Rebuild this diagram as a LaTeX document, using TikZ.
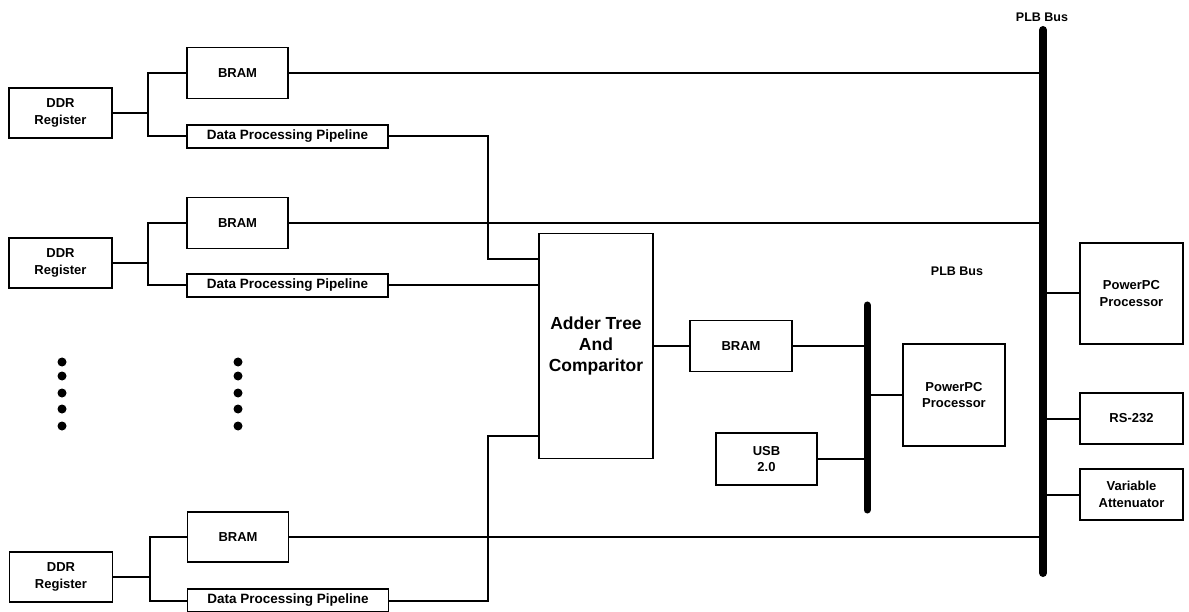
\documentclass[tikz,border=0pt]{standalone}
\usepackage{fontspec}
\setmainfont{Liberation Sans}
\usepackage{tikz}
\usetikzlibrary{positioning}

\begin{document}
\begin{tikzpicture}[x=1pt, y=-1pt,
    box/.style={draw=black, line width=1.8pt, fill=white, inner sep=0pt, align=center,
        font=\bfseries\fontsize{13}{16.5}\selectfont},
    pipebox/.style={box, font=\bfseries\fontsize{13.5}{16}\selectfont},
    bigbox/.style={box, font=\bfseries\fontsize{17.5}{21}\selectfont},
    wire/.style={draw=black, line width=2pt},
    bus/.style={draw=black, line cap=round},
    buslabel/.style={font=\bfseries\fontsize{12.5}{15}\selectfont}
    ]
        \useasboundingbox (0,0) rectangle (1189,612);

        %Nodes
        \node[box, minimum width=103pt, minimum height=50pt]
            (ddrA)  at (60.5,113)   {DDR\\Register};
        \node[box, minimum width=101pt, minimum height=51pt]
            (bramA) at (237.5,73)   {BRAM};
        \node[pipebox, minimum width=201pt, minimum height=23pt]
            (dppA)  at (287.5,136.5) {Data Processing Pipeline};

        \node[box, minimum width=103pt, minimum height=50pt]
            (ddrB)  at (60.5,263)   {DDR\\Register};
        \node[box, minimum width=101pt, minimum height=51pt]
            (bramB) at (237.5,223) {BRAM};
        \node[pipebox, minimum width=201pt, minimum height=23pt]
            (dppB)  at (287.5,285.5) {Data Processing Pipeline};

        \node[box, minimum width=103pt, minimum height=50pt]
            (ddrC)  at (61,577)     {DDR\\Register};
        \node[box, minimum width=101pt, minimum height=50pt]
            (bramC) at (238,537)    {BRAM};
        \node[pipebox, minimum width=201pt, minimum height=23pt]
            (dppC)  at (288,600.5)  {Data Processing Pipeline};

        \node[bigbox, minimum width=114pt, minimum height=225pt]
            (adder) at (596,346)    {Adder Tree\\And\\Comparitor};
        \node[box, minimum width=102pt, minimum height=51pt]
            (bramD) at (741,346)    {BRAM};
        \node[box, minimum width=101pt, minimum height=52pt]
            (usb)   at (766.5,459)  {USB\\2.0};
        \node[box, minimum width=102pt, minimum height=102pt]
            (ppcB)  at (954,395)    {PowerPC\\Processor};

        \node[box, minimum width=103pt, minimum height=101pt]
            (ppcA)  at (1131.5,293.5) {PowerPC\\Processor};
        \node[box, minimum width=103pt, minimum height=51pt]
            (rs)    at (1131.5,418.5) {RS-232};
        \node[box, minimum width=103pt, minimum height=51pt]
            (att)   at (1131.5,494.5) {Variable\\Attenuator};

        \node[buslabel] (plbA) at (1042,17)  {PLB Bus};
        \node[buslabel] (plbB) at (957,271)  {PLB Bus};

        %Buses
        \coordinate (busAtop) at (1043,30);
        \coordinate (busAbot) at (1043,573);
        \coordinate (busBtop) at (867,305);
        \coordinate (busBbot) at (867,510);
        \draw[bus, line width=8pt] (busAtop) -- (busAbot);
        \draw[bus, line width=7pt] (busBtop) -- (busBbot);

        %Junctions
        \coordinate (jA) at (148,113);
        \coordinate (jB) at (148,263);
        \coordinate (jC) at (150,577);
        \coordinate (jog) at (488,0);

        %Lines
        \draw[wire] (ddrA.east) -- (jA);
        \draw[wire] (bramA.west) -| (jA) |- (dppA.west);
        \draw[wire] (ddrB.east) -- (jB);
        \draw[wire] (bramB.west) -| (jB) |- (dppB.west);
        \draw[wire] (ddrC.east) -- (jC);
        \draw[wire] (bramC.west) -| (jC) |- (dppC.west);

        \draw[wire] (bramA.east) -- (bramA.east -| busAtop);
        \draw[wire] (bramB.east) -- (bramB.east -| busAtop);
        \draw[wire] (bramC.east) -- (bramC.east -| busAtop);

        \draw[wire] (dppA.east) -- (dppA.east -| jog) |- ([yshift=87pt]adder.west);
        \draw[wire] (dppB.east) -- (dppB.east -| adder.west);
        \draw[wire] (dppC.east) -- (dppC.east -| jog) |- ([yshift=-90pt]adder.west);

        \draw[wire] (adder.east) -- (bramD.west);
        \draw[wire] (bramD.east) -- (bramD.east -| busBtop);
        \draw[wire] (usb.east) -- (usb.east -| busBtop);
        \draw[wire] (ppcB.west) -- (ppcB.west -| busBtop);

        \draw[wire] (ppcA.west) -- (ppcA.west -| busAtop);
        \draw[wire] (rs.west) -- (rs.west -| busAtop);
        \draw[wire] (att.west) -- (att.west -| busAtop);

        %Dots
        \foreach \y in {362,376,393,409,426} {
            \fill (62,\y) circle (4.5pt);
            \fill (238,\y) circle (4.5pt);
        }
    \end{tikzpicture}
\end{document}
